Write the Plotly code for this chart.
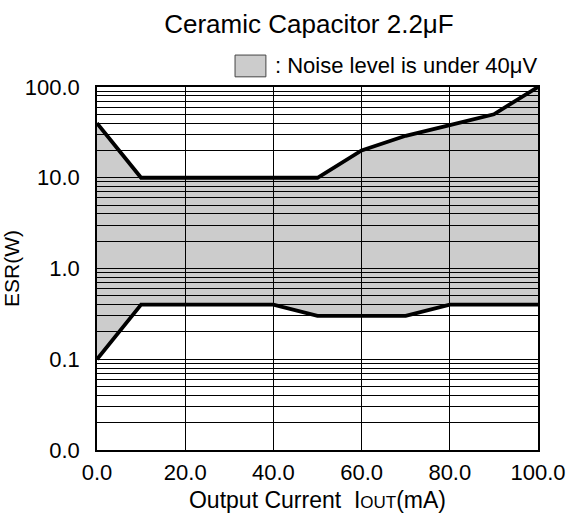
import plotly.graph_objects as go

current = [0, 10, 20, 30, 40, 50, 60, 70, 80, 90, 100]
esr_upper = [40, 10, 10, 10, 10, 10, 20, 29, 38, 50, 100]
esr_lower = [0.1, 0.4, 0.4, 0.4, 0.4, 0.3, 0.3, 0.3, 0.4, 0.4, 0.4]

x_ticks = [0, 20, 40, 60, 80, 100]
x_labels = ["0.0", "20.0", "40.0", "60.0", "80.0", "100.0"]
decades = [0.01, 0.1, 1, 10, 100]
decade_labels = ["0.0", "0.1", "1.0", "10.0", "100.0"]

y_vals, y_text = [], []
for d, lab in zip(decades, decade_labels):
    y_vals.append(d)
    y_text.append(lab)
    if d < 100:
        for m in range(2, 10):
            y_vals.append(d * m)
            y_text.append("")

FONT = "Liberation Sans, Arial, sans-serif"

fig = go.Figure()
fig.add_trace(go.Scatter(x=current, y=esr_lower, mode="lines",
                         line=dict(color="black", width=3.8), showlegend=False))
fig.add_trace(go.Scatter(x=current, y=esr_upper, mode="lines",
                         line=dict(color="black", width=3.8), fill="tonexty",
                         fillcolor="rgba(0,0,0,0.2)", showlegend=False))

fig.update_layout(
    width=568, height=521,
    margin=dict(l=97, r=30, t=87, b=71, autoexpand=False),
    paper_bgcolor="white", plot_bgcolor="white",
    font=dict(family=FONT, size=22, color="black"),
    title=dict(text="Ceramic Capacitor 2.2μF", x=0.544, xanchor="center",
               xref="container", yref="container",
               y=0.954, yanchor="middle", font=dict(size=26), automargin=False),
    xaxis=dict(range=[0, 100], tickvals=x_ticks, ticktext=x_labels,
               showgrid=True, gridcolor="black", gridwidth=1,
               showline=True, linecolor="black", linewidth=1.5, mirror=True,
               ticks="outside", ticklen=2, tickcolor="rgba(0,0,0,0)",
               zeroline=False, automargin=False,
               title=dict(text="Output Current &nbsp;I<span style='font-size:17px'>OUT</span>(mA)",
                          font=dict(size=23), standoff=8)),
    yaxis=dict(type="log", range=[-2, 2], tickvals=y_vals, ticktext=y_text,
               showgrid=True, gridcolor="black", gridwidth=1,
               showline=True, linecolor="black", linewidth=1.5, mirror=True,
               ticks="outside", ticklen=11, tickcolor="rgba(0,0,0,0)",
               zeroline=False, automargin=False,
               title=dict(text="ESR(W)", font=dict(size=21), standoff=4)),
    shapes=[dict(type="rect", xref="paper", yref="paper",
                 x0=0.313, x1=0.383, y0=1.028, y1=1.088,
                 fillcolor="#cccccc", line=dict(color="#444444", width=1))],
    annotations=[dict(text=": Noise level is under 40μV", xref="paper", yref="paper",
                      x=0.399, y=1.058, xanchor="left", yanchor="middle",
                      showarrow=False, font=dict(size=22))],
)

fig.write_html(
    "out.html",
    config={"displayModeBar": False},
    post_script="document.body.style.margin='0';"
                "document.documentElement.style.overflow='hidden';"
                "document.body.style.overflow='hidden';",
)
